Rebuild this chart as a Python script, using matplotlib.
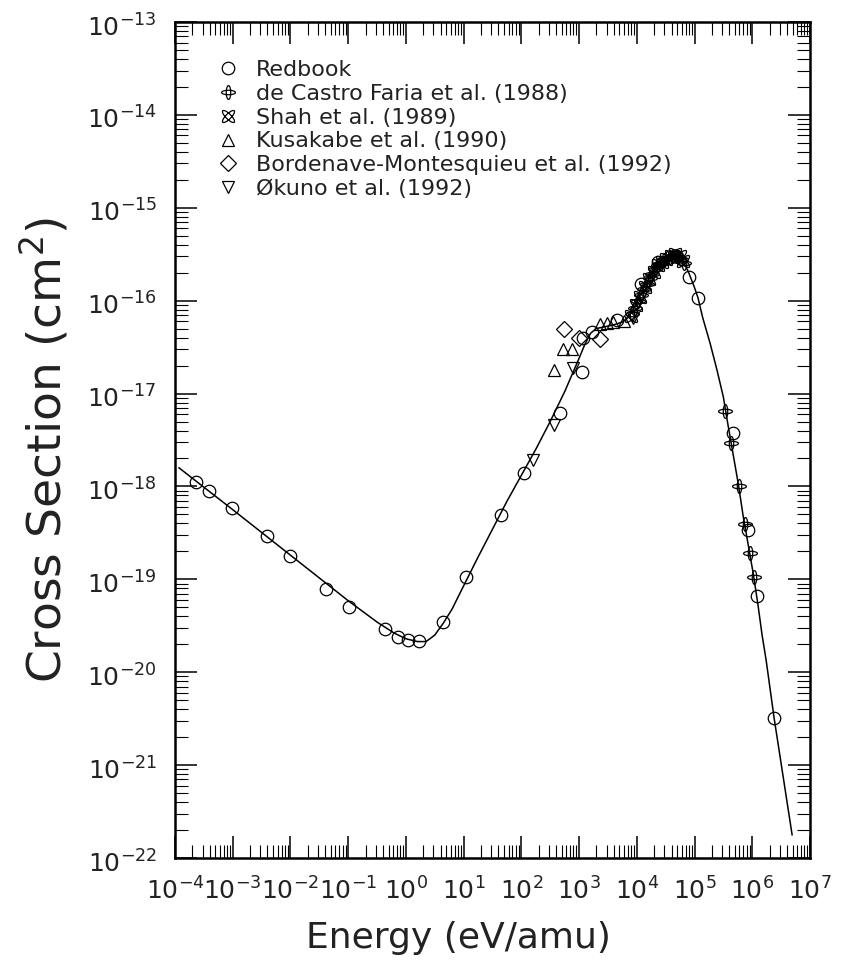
import numpy as np
import matplotlib
matplotlib.use('Agg')
import matplotlib.pyplot as plt
from matplotlib.path import Path
from matplotlib.transforms import Affine2D, ScaledTranslation
from matplotlib.ticker import (LogLocator, NullFormatter, FixedLocator,
                               LogFormatterSciNotation)

# recommended fit, stored as log10(E [eV/amu]) and log10(sigma [cm^2])
fit_logE = [-3.93, -3.0, -2.0, -1.0, -0.5, -0.2, 0.0, 0.2, 0.35, 0.5, 0.65, 0.8,
            1.0, 1.25, 1.5, 1.75, 2.0, 2.25, 2.5, 2.75, 3.0, 3.1, 3.2, 3.3,
            3.45, 3.6, 3.75, 3.85, 3.95, 4.05, 4.15, 4.25, 4.35, 4.45, 4.55,
            4.65, 4.72, 4.8, 4.9, 5.0, 5.06, 5.14, 5.27, 5.39, 5.50, 5.58, 5.67,
            5.76, 5.84, 5.93, 6.02, 6.10, 6.17, 6.24, 6.38, 6.69]
fit_logsig = [-17.80, -18.25, -18.74, -19.23, -19.46, -19.58, -19.64, -19.67, -19.67,
              -19.60, -19.47, -19.32, -19.07, -18.76, -18.46, -18.16, -17.88, -17.60,
              -17.30, -16.98, -16.62, -16.47, -16.35, -16.30, -16.28, -16.26, -16.23,
              -16.18, -16.08, -15.95, -15.83, -15.72, -15.63, -15.57, -15.53, -15.51,
              -15.52, -15.57, -15.70, -15.86, -15.97, -16.18, -16.46, -16.75, -17.04,
              -17.34, -17.66, -17.98, -18.31, -18.63, -18.95, -19.28, -19.60, -19.87,
              -20.50, -21.75]

redbook_E = [2.3e-4, 3.9e-4, 9.8e-4, 3.9e-3, 1.0e-2, 4.2e-2, 1.05e-1, 4.3e-1, 7.4e-1,
             1.07, 1.7, 4.4, 11, 44, 110, 460, 1120, 1150, 1700, 4570,
             1.2e4, 2.35e4, 4.7e4, 8.1e4, 1.15e5, 4.7e5, 8.5e5, 1.23e6, 2.4e6]
redbook_sig = [1.12e-18, 8.9e-19, 5.8e-19, 2.9e-19, 1.8e-19, 7.8e-20, 5.0e-20, 2.9e-20,
               2.4e-20, 2.2e-20, 2.15e-20, 3.5e-20, 1.05e-19, 4.9e-19, 1.38e-18, 6.2e-18,
               1.7e-17, 4.0e-17, 4.6e-17, 6.2e-17, 1.5e-16, 2.6e-16, 3.0e-16, 1.8e-16,
               1.07e-16, 3.8e-18, 3.4e-19, 6.6e-20, 3.2e-21]

castro_E = [8.3e3, 9.3e3, 1.05e4, 1.17e4, 1.32e4, 1.48e4, 1.66e4, 1.86e4, 2.09e4,
            2.34e4, 2.63e4, 2.95e4, 3.31e4, 3.72e4, 4.17e4, 4.68e4, 5.25e4, 5.89e4,
            6.6e4, 3.4e5, 4.2e5, 5.8e5, 7.6e5, 9.1e5, 1.07e6]
castro_sig = [7.2e-17, 8.3e-17, 1.0e-16, 1.15e-16, 1.32e-16, 1.51e-16, 1.74e-16,
              1.95e-16, 2.19e-16, 2.4e-16, 2.57e-16, 2.75e-16, 2.88e-16, 2.95e-16,
              3.02e-16, 3.02e-16, 2.95e-16, 2.82e-16, 2.57e-16,
              6.5e-18, 2.95e-18, 1.0e-18, 3.9e-19, 1.9e-19, 1.07e-19]

shah_E = [7.9e3, 9.5e3, 1.15e4, 1.38e4, 1.62e4, 1.95e4, 2.29e4, 2.75e4, 3.24e4,
          3.89e4, 4.57e4, 5.5e4, 6.3e4]
shah_sig = [6.8e-17, 8.9e-17, 1.1e-16, 1.41e-16, 1.7e-16, 2.04e-16, 2.4e-16, 2.63e-16,
            2.82e-16, 3.02e-16, 3.16e-16, 3.02e-16, 2.69e-16]

kusakabe_E = [372, 525, 760, 2340, 3090, 3890, 6000]
kusakabe_sig = [1.78e-17, 3.0e-17, 3.0e-17, 5.6e-17, 5.75e-17, 5.9e-17, 6.0e-17]

bordenave_E = [550, 980, 2340]
bordenave_sig = [5.0e-17, 4.0e-17, 3.9e-17]

okuno_E = [160, 372, 800, 8700]
okuno_sig = [1.95e-18, 4.6e-18, 1.9e-17, 6.5e-17]

labels = ['Redbook', 'de Castro Faria et al. (1988)', 'Shah et al. (1989)',
          'Kusakabe et al. (1990)', 'Bordenave-Montesquieu et al. (1992)',
          'Økuno et al. (1992)']

x_ticks = [1e-4, 1e-3, 1e-2, 1e-1, 1e0, 1e1, 1e2, 1e3, 1e4, 1e5, 1e6, 1e7]
y_ticks = [1e-22, 1e-21, 1e-20, 1e-19, 1e-18, 1e-17, 1e-16, 1e-15, 1e-14, 1e-13]

txt = '#222222'

# crossed-ellipse markers
ell = Path.unit_circle()
castro_marker = Path.make_compound_path(
    ell.transformed(Affine2D().scale(1.0, 0.32)),
    ell.transformed(Affine2D().scale(0.32, 1.0)))
shah_marker = castro_marker.transformed(Affine2D().rotate_deg(45))

fig = plt.figure(figsize=(8.45, 9.67), dpi=100)
ax = fig.add_axes([175 / 845, 1 - 858 / 967, 635 / 845, 836 / 967])
ax.set_xscale('log')
ax.set_yscale('log')

ax.plot(10 ** np.array(fit_logE), 10 ** np.array(fit_logsig), color='k', lw=1.1)

mk = dict(ls='none', mfc='none', mec='k', mew=0.9)
h1, = ax.plot(redbook_E, redbook_sig, marker='o', ms=9, **mk)
h2, = ax.plot(castro_E, castro_sig, marker=castro_marker, ms=10, **mk)
h3, = ax.plot(shah_E, shah_sig, marker=shah_marker, ms=9, **mk)
h4, = ax.plot(kusakabe_E, kusakabe_sig, marker='^', ms=8, **mk)
h5, = ax.plot(bordenave_E, bordenave_sig, marker='D', ms=8, **mk)
h6, = ax.plot(okuno_E, okuno_sig, marker='v', ms=8, **mk)

ax.set_xlim(x_ticks[0], x_ticks[-1])
ax.set_ylim(y_ticks[0], y_ticks[-1])

for axis, ticks in ((ax.xaxis, x_ticks), (ax.yaxis, y_ticks)):
    axis.set_major_locator(FixedLocator(ticks))
    axis.set_major_formatter(LogFormatterSciNotation())
    axis.set_minor_locator(LogLocator(base=10, subs=np.arange(2, 10), numticks=20))
    axis.set_minor_formatter(NullFormatter())

ax.tick_params(which='both', direction='in', top=True, right=True, labelcolor=txt)
ax.tick_params(which='major', length=16, width=1.1, labelsize=18)
ax.tick_params(which='minor', length=9.5, width=0.8)
ax.tick_params(axis='x', which='major', pad=14)
ax.tick_params(axis='y', which='major', pad=13)
for sp in ax.spines.values():
    sp.set_linewidth(1.8)

ax.legend([h1, h2, h3, h4, h5, h6], labels, loc='upper left',
          bbox_to_anchor=(217 / 845, 1 - 60 / 967), bbox_transform=fig.transFigure,
          frameon=False, fontsize=16, handlelength=0.95, handletextpad=0.8,
          labelspacing=0.17, borderpad=0, borderaxespad=0, numpoints=1,
          labelcolor=txt)

fig.text(45 / 845, 1 - 450 / 967, 'Cross Section (cm$^2$)', rotation=90,
         ha='center', va='center', fontsize=34, color=txt)
fig.text(458 / 845, 1 - 938 / 967, 'Energy (eV/amu)', ha='center', va='center',
         fontsize=26, color=txt)

# y tick labels sit a little below their ticks in the original
fig.canvas.draw()
shift = ScaledTranslation(0, -0.03, fig.dpi_scale_trans)
for t in ax.yaxis.get_major_ticks():
    t.label1.set_transform(t.label1.get_transform() + shift)

fig.savefig('out.png', dpi=100)
